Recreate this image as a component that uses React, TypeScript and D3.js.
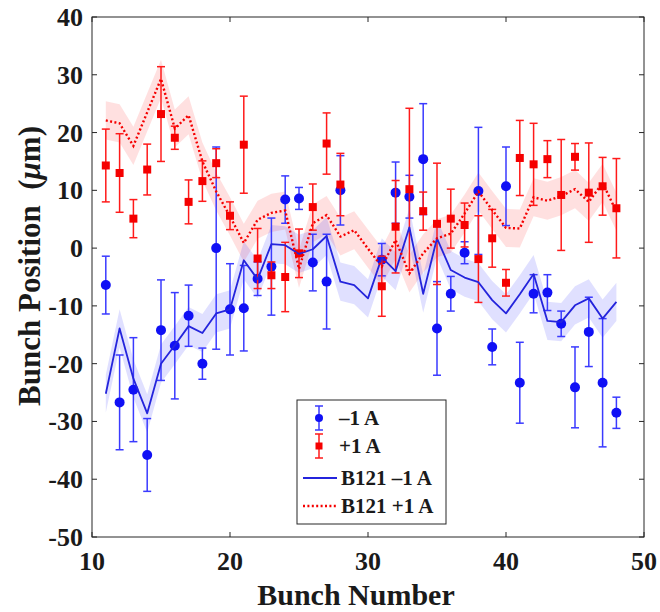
import React from 'react';
import * as d3 from 'd3';

const pointBunches = [11, 12, 13, 14, 15, 16, 17, 18, 19, 20, 21, 22, 23, 24, 25, 26, 27, 28, 31, 32, 33, 34, 35, 36, 37, 38, 39, 40, 41, 42, 43, 44, 45, 46, 47, 48];
const minusVals = [-6.4, -26.7, -24.5, -35.8, -14.2, -16.9, -11.7, -20.0, 0.0, -10.6, -10.4, -5.3, -3.2, 8.4, 8.6, -2.5, -5.8, 10.0, -2.0, 9.6, 8.9, 15.4, -13.9, -7.9, -0.8, 9.9, -17.1, 10.7, -23.3, -7.9, -7.7, -13.1, -24.1, -14.5, -23.3, -28.5];
const minusErr = [5.0, 8.2, 9.0, 6.3, 8.7, 9.2, 5.3, 2.7, 17.5, 7.9, 7.4, 2.9, 8.4, 4.1, 1.9, 4.9, 8.2, 6.0, 2.8, 5.3, 3.7, 9.6, 8.1, 3.0, 1.9, 11.0, 3.1, 6.8, 7.0, 3.3, 3.1, 2.2, 7.0, 6.0, 11.1, 2.7];
const plusVals = [14.3, 13.0, 5.1, 13.6, 23.2, 19.1, 8.0, 11.6, 14.7, 5.6, 17.9, -1.8, -4.7, -5.0, -0.9, 7.1, 18.1, 11.0, -6.6, 3.7, 10.2, 6.4, 4.2, 5.1, 4.0, -1.9, 1.7, -6.0, 15.6, 14.5, 15.4, 9.2, 15.8, 9.6, 10.7, 6.9];
const plusErr = [6.3, 6.8, 3.3, 4.4, 8.2, 2.0, 3.8, 3.5, 2.5, 2.4, 8.4, 5.2, 2.3, 6.0, 4.2, 4.0, 5.3, 5.4, 5.2, 8.0, 14.0, 3.3, 10.5, 5.1, 3.8, 7.5, 5.0, 2.3, 6.5, 7.1, 3.2, 9.6, 2.3, 8.6, 5.0, 8.6];

const modelBunches = [11, 12, 13, 14, 15, 16, 17, 18, 19, 20, 21, 22, 23, 24, 25, 26, 27, 28, 29, 30, 31, 32, 33, 34, 35, 36, 37, 38, 39, 40, 41, 42, 43, 44, 45, 46, 47, 48];
const modelMinus = [-25.2, -13.9, -22.6, -28.6, -20.0, -16.8, -13.5, -14.7, -11.3, -10.6, -2.1, -5.4, 0.7, 0.5, -1.0, -0.2, 2.1, -5.8, -6.4, -8.7, -1.6, -4.0, 3.6, -7.9, 1.7, -3.8, -5.1, -5.9, -9.0, -11.3, -8.0, -4.5, -12.6, -12.8, -9.9, -8.7, -12.2, -9.3];
const modelPlus = [22.1, 21.6, 17.7, 23.5, 29.3, 20.7, 23.0, 15.0, 9.8, 5.5, 0.9, 4.9, 6.1, 6.5, -3.6, 4.3, 5.7, 2.0, 3.1, -0.1, -3.2, 1.4, -4.4, -0.9, 1.7, 2.5, 6.0, 9.8, 6.6, 3.5, 3.4, 8.8, 8.2, 9.0, 10.2, 8.0, 11.3, 6.3];
const modelSpread = 3.3;

const xTicks = [10, 20, 30, 40, 50];
const yTicks = [-50, -40, -30, -20, -10, 0, 10, 20, 30, 40];

const legendLabels = ['\u20131 A', '+1 A', 'B121 \u20131 A', 'B121 +1 A'];

const FONT = '"Liberation Serif", "Times New Roman", serif';
const BLUE = '#1010f5';
const BLUE_BAR = '#3a3aff';
const BLUE_LINE = '#2424dc';
const RED = '#f50000';
const RED_BAR = '#ff1a1a';
const AXIS = '#262626';

export default function App() {
  const W = 660;
  const H = 612;
  const left = 92, right = 644, top = 17, bottom = 537;
  const x = d3.scaleLinear().domain([10, 50]).range([left, right]);
  const y = d3.scaleLinear().domain([-50, 40]).range([bottom, top]);

  const line = d3.line<number>().x((_, i) => x(modelBunches[i])).y((d) => y(d));
  const area = d3
    .area<number>()
    .x((_, i) => x(modelBunches[i]))
    .y0((d) => y(d - modelSpread))
    .y1((d) => y(d + modelSpread));

  const cap = 4;
  const tick = 5;

  const errBars = (vals: number[], errs: number[], color: string) =>
    vals.map((v, i) => {
      const cx = x(pointBunches[i]);
      const y1 = y(v + errs[i]);
      const y2 = y(v - errs[i]);
      return (
        <g key={i} stroke={color} strokeWidth={1.5}>
          <line x1={cx} x2={cx} y1={y1} y2={y2} />
          <line x1={cx - cap} x2={cx + cap} y1={y1} y2={y1} />
          <line x1={cx - cap} x2={cx + cap} y1={y2} y2={y2} />
        </g>
      );
    });

  const lgX = 297, lgY = 400, lgW = 149, lgH = 124;
  const rowY = [418, 446, 478, 506];
  const symX = 319;
  const textX = 338;

  return (
    <svg
      width={W}
      height={H}
      viewBox={`0 0 ${W} ${H}`}
      style={{ position: 'absolute', left: 0, top: 0, display: 'block', background: '#fff' }}
      fontFamily={FONT}
      fontWeight="bold"
    >
      <rect x={0} y={0} width={W} height={H} fill="#fff" />
      {/* bands */}
      <path d={area(modelPlus) || ''} fill="#ff0000" fillOpacity={0.12} stroke="none" />
      <path d={area(modelMinus) || ''} fill="#0000ff" fillOpacity={0.12} stroke="none" />

      {/* error bars and markers */}
      {errBars(minusVals, minusErr, BLUE_BAR)}
      {minusVals.map((v, i) => (
        <circle key={'mc' + i} cx={x(pointBunches[i])} cy={y(v)} r={5} fill={BLUE} />
      ))}
      {errBars(plusVals, plusErr, RED_BAR)}
      {plusVals.map((v, i) => (
        <rect key={'pr' + i} x={x(pointBunches[i]) - 4} y={y(v) - 4} width={8} height={8} fill={RED} />
      ))}

      {/* model lines */}
      <path d={line(modelMinus) || ''} fill="none" stroke={BLUE_LINE} strokeWidth={1.8} strokeLinejoin="round" />
      <path d={line(modelPlus) || ''} fill="none" stroke={RED} strokeWidth={2.4} strokeDasharray="2 2.4" />

      {/* axes box */}
      <rect x={left} y={top} width={right - left} height={bottom - top} fill="none" stroke={AXIS} strokeWidth={1} />
      {xTicks.map((t) => (
        <g key={'xt' + t} stroke={AXIS} strokeWidth={1}>
          <line x1={x(t)} x2={x(t)} y1={bottom} y2={bottom - tick} />
          <line x1={x(t)} x2={x(t)} y1={top} y2={top + tick} />
        </g>
      ))}
      {yTicks.map((t) => (
        <g key={'yt' + t} stroke={AXIS} strokeWidth={1}>
          <line x1={left} x2={left + tick} y1={y(t)} y2={y(t)} />
          <line x1={right} x2={right - tick} y1={y(t)} y2={y(t)} />
        </g>
      ))}
      {xTicks.map((t) => (
        <text key={'xl' + t} x={x(t)} y={570} textAnchor="middle" fontSize={26} fill="#1a1a1a">
          {t}
        </text>
      ))}
      {yTicks.map((t) => (
        <text key={'yl' + t} x={83} y={y(t) + 9} textAnchor="end" fontSize={26} fill="#1a1a1a">
          {t}
        </text>
      ))}
      <text x={356} y={605} textAnchor="middle" fontSize={30} fill="#1a1a1a">
        Bunch Number
      </text>
      <text
        transform={`translate(40, ${266}) rotate(-90)`}
        textAnchor="middle"
        fontSize={31}
        fill="#1a1a1a"
        style={{ whiteSpace: 'pre' }}
      >
        {'Bunch Position  ('}
        <tspan fontStyle="italic">{'\u03bc'}</tspan>
        {'m)'}
      </text>

      {/* legend */}
      <rect x={lgX} y={lgY} width={lgW} height={lgH} fill="#fff" stroke={AXIS} strokeWidth={1} />
      <g stroke={BLUE_BAR} strokeWidth={1.5}>
        <line x1={symX} x2={symX} y1={rowY[0] - 12} y2={rowY[0] + 12} />
        <line x1={symX - 4} x2={symX + 4} y1={rowY[0] - 12} y2={rowY[0] - 12} />
        <line x1={symX - 4} x2={symX + 4} y1={rowY[0] + 12} y2={rowY[0] + 12} />
      </g>
      <circle cx={symX} cy={rowY[0]} r={4} fill={BLUE} />
      <g stroke={RED_BAR} strokeWidth={1.5}>
        <line x1={symX} x2={symX} y1={rowY[1] - 12} y2={rowY[1] + 12} />
        <line x1={symX - 4} x2={symX + 4} y1={rowY[1] - 12} y2={rowY[1] - 12} />
        <line x1={symX - 4} x2={symX + 4} y1={rowY[1] + 12} y2={rowY[1] + 12} />
      </g>
      <rect x={symX - 3.5} y={rowY[1] - 3.5} width={7} height={7} fill={RED} />
      <line x1={303} x2={337} y1={rowY[2]} y2={rowY[2]} stroke={BLUE_LINE} strokeWidth={1.8} />
      <line x1={303} x2={337} y1={rowY[3]} y2={rowY[3]} stroke={RED} strokeWidth={2.4} strokeDasharray="2 2.4" />
      {legendLabels.map((l, i) => (
        <text key={'lg' + i} x={i < 2 ? textX + 1 : textX + 3} y={rowY[i] + 7} fontSize={21} fill="#1a1a1a">
          {l}
        </text>
      ))}
    </svg>
  );
}
